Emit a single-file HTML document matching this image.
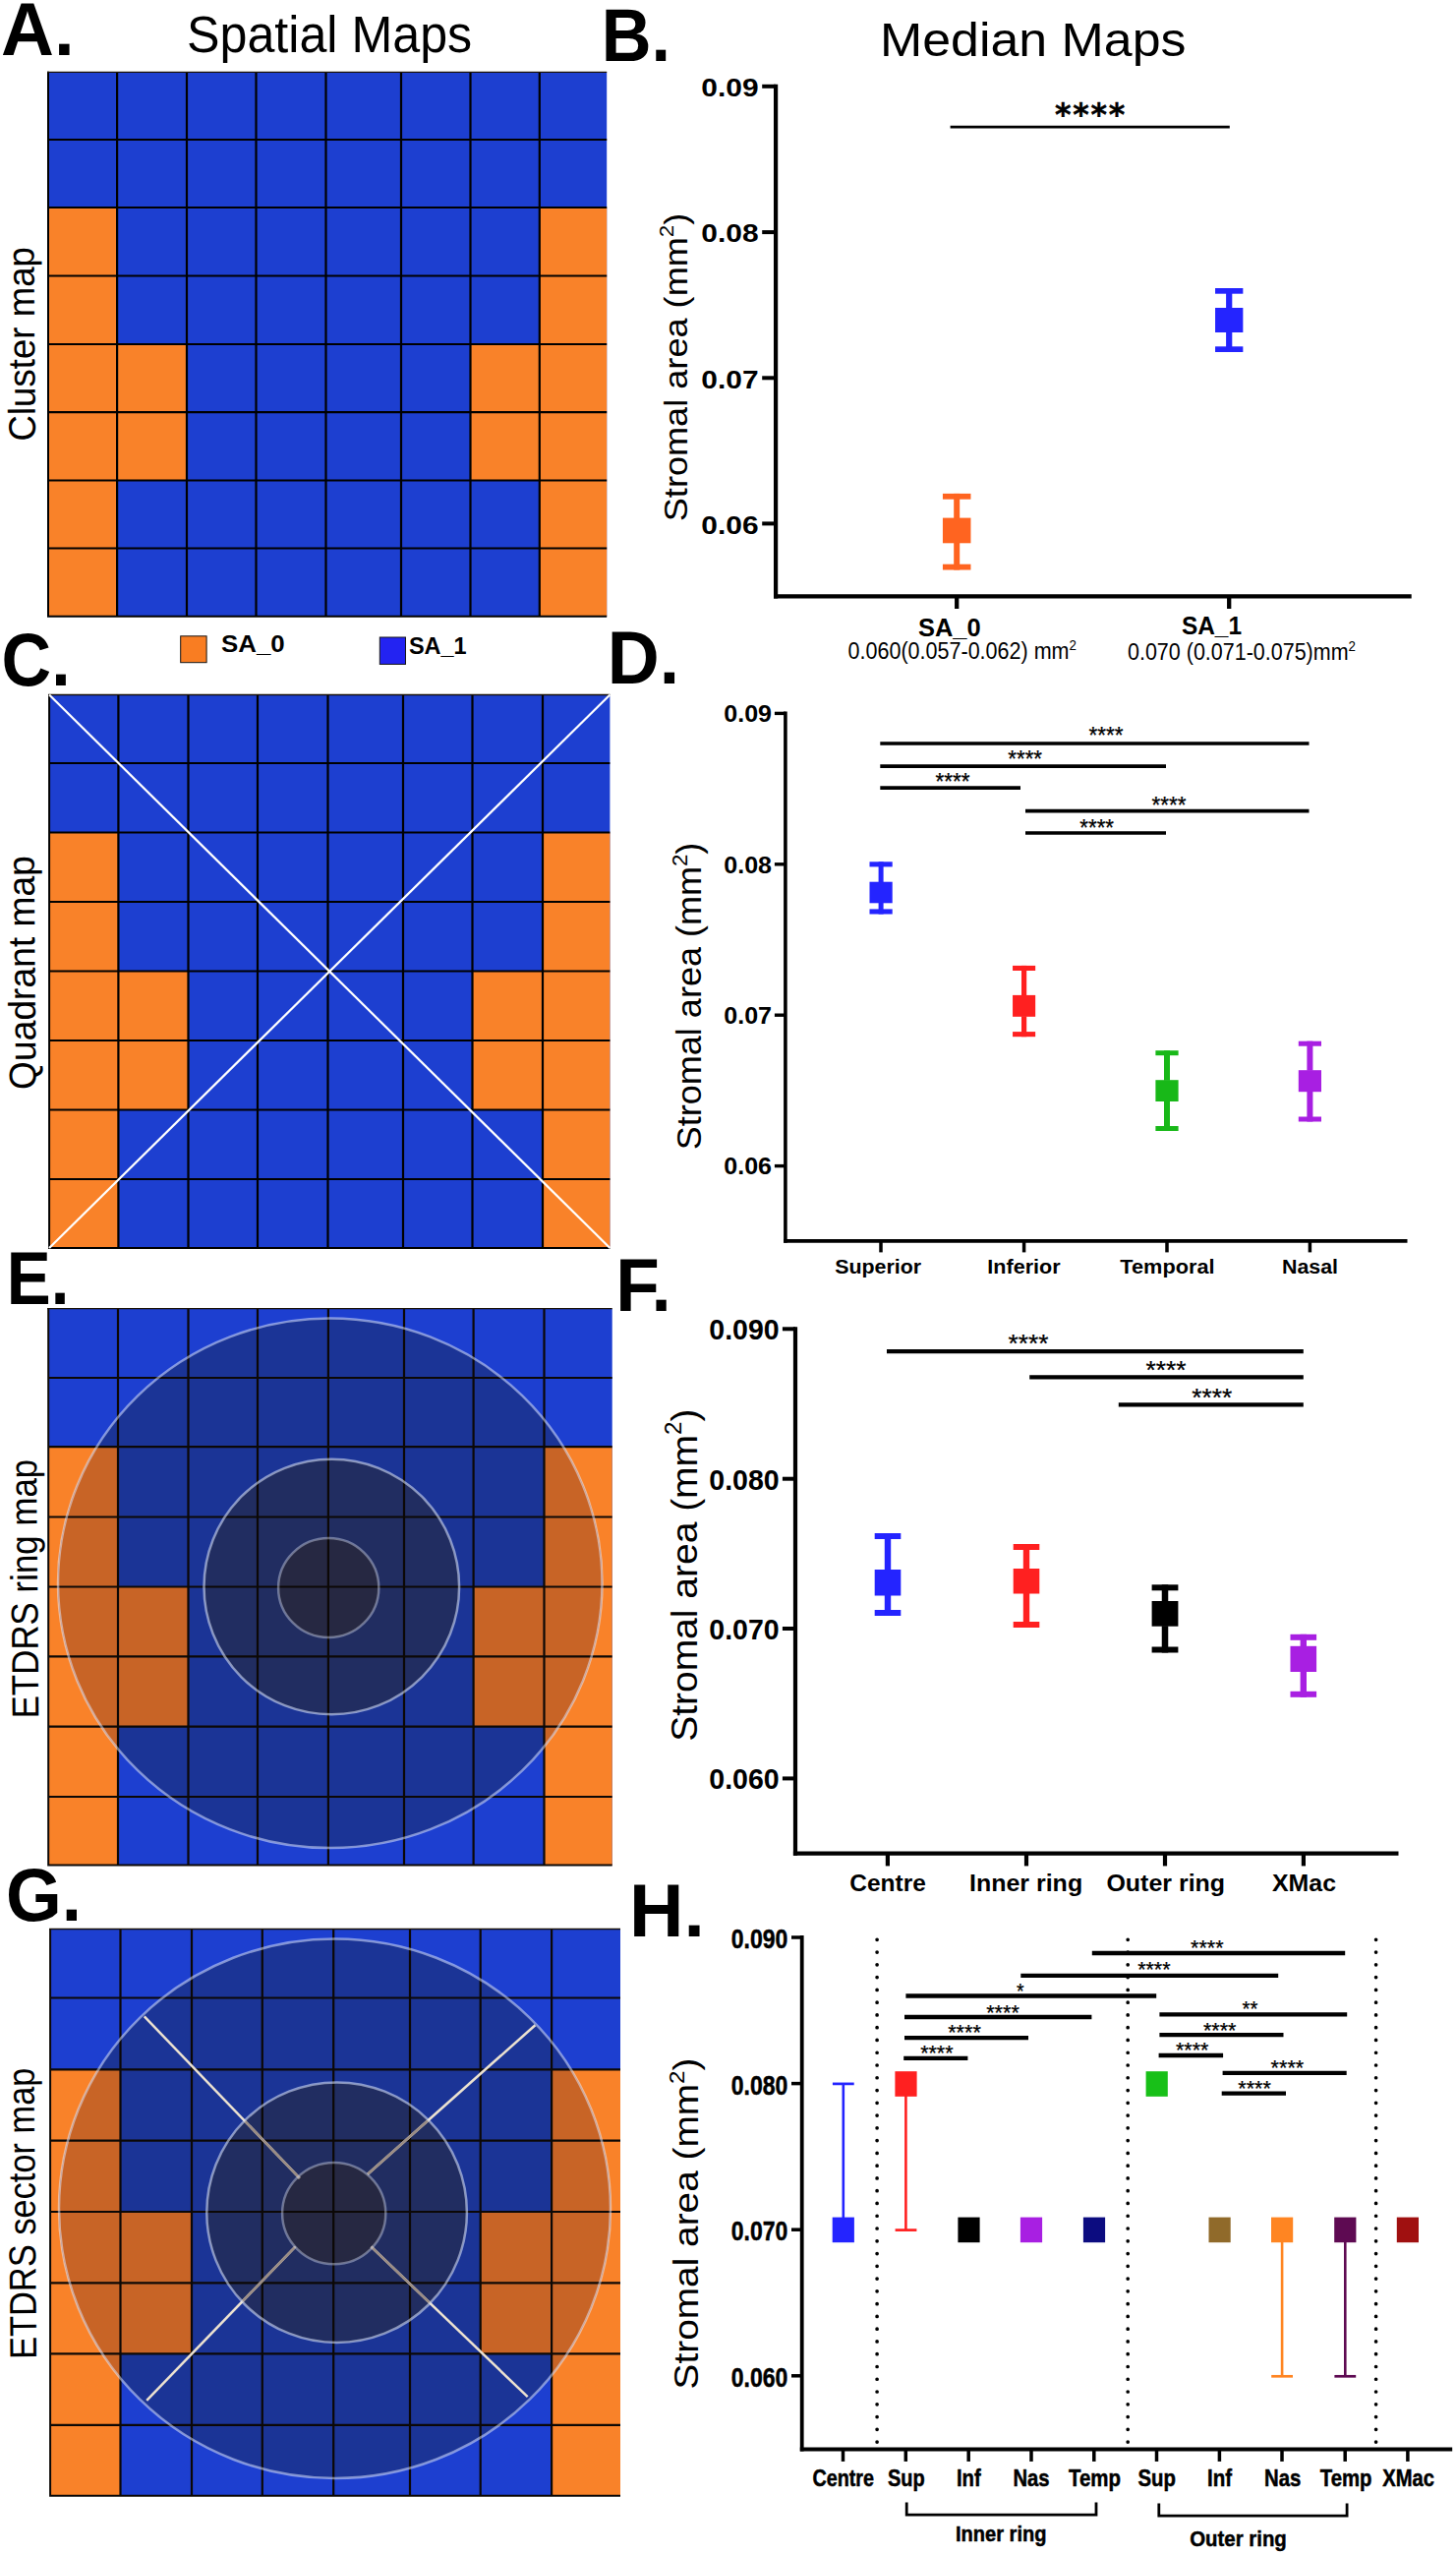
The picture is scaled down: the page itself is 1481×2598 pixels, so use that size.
<!DOCTYPE html>
<html lang="en"><head><meta charset="utf-8"><title>Spatial and median maps of stromal area</title>
<style>html,body{margin:0;padding:0;background:#fff}svg{display:block}</style></head>
<body>
<svg width="1481" height="2598" viewBox="0 0 1481 2598" font-family='"Liberation Sans", Arial, sans-serif'>
<rect x="0.00" y="0.00" width="1481.00" height="2598.00" fill="#fff"/>
<rect x="49.00" y="73.40" width="568.20" height="553.30" fill="#1d3fd0"/>
<rect x="49.00" y="211.00" width="70.10" height="69.50" fill="#f98229"/>
<rect x="548.80" y="211.00" width="68.40" height="69.50" fill="#f98229"/>
<rect x="49.00" y="280.50" width="70.10" height="69.50" fill="#f98229"/>
<rect x="548.80" y="280.50" width="68.40" height="69.50" fill="#f98229"/>
<rect x="49.00" y="350.00" width="70.10" height="69.10" fill="#f98229"/>
<rect x="119.10" y="350.00" width="70.90" height="69.10" fill="#f98229"/>
<rect x="478.50" y="350.00" width="70.30" height="69.10" fill="#f98229"/>
<rect x="548.80" y="350.00" width="68.40" height="69.10" fill="#f98229"/>
<rect x="49.00" y="419.10" width="70.10" height="69.40" fill="#f98229"/>
<rect x="119.10" y="419.10" width="70.90" height="69.40" fill="#f98229"/>
<rect x="478.50" y="419.10" width="70.30" height="69.40" fill="#f98229"/>
<rect x="548.80" y="419.10" width="68.40" height="69.40" fill="#f98229"/>
<rect x="49.00" y="488.50" width="70.10" height="69.00" fill="#f98229"/>
<rect x="548.80" y="488.50" width="68.40" height="69.00" fill="#f98229"/>
<rect x="49.00" y="557.50" width="70.10" height="69.20" fill="#f98229"/>
<rect x="548.80" y="557.50" width="68.40" height="69.20" fill="#f98229"/>
<path d="M119.10 73.40V626.70M190.00 73.40V626.70M260.50 73.40V626.70M331.50 73.40V626.70M408.00 73.40V626.70M478.50 73.40V626.70M548.80 73.40V626.70M49.00 142.00H617.20M49.00 211.00H617.20M49.00 280.50H617.20M49.00 350.00H617.20M49.00 419.10H617.20M49.00 488.50H617.20M49.00 557.50H617.20" stroke="#000" stroke-width="2.2" fill="none"/>
<path d="M49.00 72.80V626.70H617.20" stroke="#000" stroke-width="2.0" fill="none" stroke-linejoin="miter"/>
<path d="M48.00 73.40H617.20" stroke="#1a1208" stroke-width="1.3" fill="none"/>
<rect x="50.10" y="706.50" width="570.30" height="562.50" fill="#1d3fd0"/>
<rect x="50.10" y="846.50" width="70.30" height="70.50" fill="#f98229"/>
<rect x="552.00" y="846.50" width="68.40" height="70.50" fill="#f98229"/>
<rect x="50.10" y="917.00" width="70.30" height="70.50" fill="#f98229"/>
<rect x="552.00" y="917.00" width="68.40" height="70.50" fill="#f98229"/>
<rect x="50.10" y="987.50" width="70.30" height="70.50" fill="#f98229"/>
<rect x="120.40" y="987.50" width="71.10" height="70.50" fill="#f98229"/>
<rect x="480.50" y="987.50" width="71.50" height="70.50" fill="#f98229"/>
<rect x="552.00" y="987.50" width="68.40" height="70.50" fill="#f98229"/>
<rect x="50.10" y="1058.00" width="70.30" height="70.50" fill="#f98229"/>
<rect x="120.40" y="1058.00" width="71.10" height="70.50" fill="#f98229"/>
<rect x="480.50" y="1058.00" width="71.50" height="70.50" fill="#f98229"/>
<rect x="552.00" y="1058.00" width="68.40" height="70.50" fill="#f98229"/>
<rect x="50.10" y="1128.50" width="70.30" height="70.50" fill="#f98229"/>
<rect x="552.00" y="1128.50" width="68.40" height="70.50" fill="#f98229"/>
<rect x="50.10" y="1199.00" width="70.30" height="70.00" fill="#f98229"/>
<rect x="552.00" y="1199.00" width="68.40" height="70.00" fill="#f98229"/>
<path d="M120.40 706.50V1269.00M191.50 706.50V1269.00M262.00 706.50V1269.00M333.50 706.50V1269.00M410.00 706.50V1269.00M480.50 706.50V1269.00M552.00 706.50V1269.00M50.10 776.00H620.40M50.10 846.50H620.40M50.10 917.00H620.40M50.10 987.50H620.40M50.10 1058.00H620.40M50.10 1128.50H620.40M50.10 1199.00H620.40" stroke="#000" stroke-width="2.2" fill="none"/>
<path d="M50.10 705.90V1269.00H620.40" stroke="#000" stroke-width="2.0" fill="none" stroke-linejoin="miter"/>
<path d="M49.10 706.50H620.40" stroke="#1a1208" stroke-width="1.3" fill="none"/>
<line x1="50.10" y1="706.50" x2="620.40" y2="1269.00" stroke="#fff" stroke-width="2.2"/>
<line x1="620.40" y1="706.50" x2="50.10" y2="1269.00" stroke="#fff" stroke-width="2.2"/>
<rect x="49.20" y="1330.60" width="573.50" height="566.00" fill="#1d3fd0"/>
<rect x="49.20" y="1471.20" width="70.80" height="71.30" fill="#f98229"/>
<rect x="553.50" y="1471.20" width="69.20" height="71.30" fill="#f98229"/>
<rect x="49.20" y="1542.50" width="70.80" height="71.00" fill="#f98229"/>
<rect x="553.50" y="1542.50" width="69.20" height="71.00" fill="#f98229"/>
<rect x="49.20" y="1613.50" width="70.80" height="70.90" fill="#f98229"/>
<rect x="120.00" y="1613.50" width="71.50" height="70.90" fill="#f98229"/>
<rect x="481.60" y="1613.50" width="71.90" height="70.90" fill="#f98229"/>
<rect x="553.50" y="1613.50" width="69.20" height="70.90" fill="#f98229"/>
<rect x="49.20" y="1684.40" width="70.80" height="71.30" fill="#f98229"/>
<rect x="120.00" y="1684.40" width="71.50" height="71.30" fill="#f98229"/>
<rect x="481.60" y="1684.40" width="71.90" height="71.30" fill="#f98229"/>
<rect x="553.50" y="1684.40" width="69.20" height="71.30" fill="#f98229"/>
<rect x="49.20" y="1755.70" width="70.80" height="71.30" fill="#f98229"/>
<rect x="553.50" y="1755.70" width="69.20" height="71.30" fill="#f98229"/>
<rect x="49.20" y="1827.00" width="70.80" height="69.60" fill="#f98229"/>
<rect x="553.50" y="1827.00" width="69.20" height="69.60" fill="#f98229"/>
<clipPath id="rc1"><ellipse cx="335.75" cy="1609.80" rx="276.75" ry="269.30"/></clipPath>
<g clip-path="url(#rc1)">
<rect x="49.20" y="1330.60" width="573.50" height="566.00" fill="#1b3496"/>
<rect x="49.20" y="1471.20" width="70.80" height="71.30" fill="#c86426"/>
<rect x="553.50" y="1471.20" width="69.20" height="71.30" fill="#c86426"/>
<rect x="49.20" y="1542.50" width="70.80" height="71.00" fill="#c86426"/>
<rect x="553.50" y="1542.50" width="69.20" height="71.00" fill="#c86426"/>
<rect x="49.20" y="1613.50" width="70.80" height="70.90" fill="#c86426"/>
<rect x="120.00" y="1613.50" width="71.50" height="70.90" fill="#c86426"/>
<rect x="481.60" y="1613.50" width="71.90" height="70.90" fill="#c86426"/>
<rect x="553.50" y="1613.50" width="69.20" height="70.90" fill="#c86426"/>
<rect x="49.20" y="1684.40" width="70.80" height="71.30" fill="#c86426"/>
<rect x="120.00" y="1684.40" width="71.50" height="71.30" fill="#c86426"/>
<rect x="481.60" y="1684.40" width="71.90" height="71.30" fill="#c86426"/>
<rect x="553.50" y="1684.40" width="69.20" height="71.30" fill="#c86426"/>
<rect x="49.20" y="1755.70" width="70.80" height="71.30" fill="#c86426"/>
<rect x="553.50" y="1755.70" width="69.20" height="71.30" fill="#c86426"/>
<rect x="49.20" y="1827.00" width="70.80" height="69.60" fill="#c86426"/>
<rect x="553.50" y="1827.00" width="69.20" height="69.60" fill="#c86426"/>
</g>
<ellipse cx="337.30" cy="1613.50" rx="129.80" ry="129.80" fill="#212d61"/>
<ellipse cx="334.20" cy="1614.50" rx="51.10" ry="50.50" fill="#262842"/>
<path d="M120.00 1330.60V1896.60M191.50 1330.60V1896.60M262.00 1330.60V1896.60M333.90 1330.60V1896.60M411.00 1330.60V1896.60M481.60 1330.60V1896.60M553.50 1330.60V1896.60M49.20 1401.00H622.70M49.20 1471.20H622.70M49.20 1542.50H622.70M49.20 1613.50H622.70M49.20 1684.40H622.70M49.20 1755.70H622.70M49.20 1827.00H622.70" stroke="#0c0806" stroke-width="2.2" fill="none"/>
<path d="M49.20 1330.00V1896.60H622.70" stroke="#0c0806" stroke-width="2.0" fill="none" stroke-linejoin="miter"/>
<path d="M48.20 1330.60H622.70" stroke="#1a1208" stroke-width="1.3" fill="none"/>
<ellipse cx="335.75" cy="1609.80" rx="276.75" ry="269.30" fill="none" stroke="#e4ecff" stroke-opacity="0.52" stroke-width="2.5"/>
<ellipse cx="337.30" cy="1613.50" rx="129.80" ry="129.80" fill="none" stroke="#e4ecff" stroke-opacity="0.55" stroke-width="2.5"/>
<ellipse cx="334.20" cy="1614.50" rx="51.10" ry="50.50" fill="none" stroke="#e4ecff" stroke-opacity="0.4" stroke-width="2.5"/>
<rect x="51.10" y="1961.50" width="579.90" height="576.20" fill="#1d3fd0"/>
<rect x="51.10" y="2104.30" width="71.40" height="72.30" fill="#f98229"/>
<rect x="561.10" y="2104.30" width="69.90" height="72.30" fill="#f98229"/>
<rect x="51.10" y="2176.60" width="71.40" height="72.40" fill="#f98229"/>
<rect x="561.10" y="2176.60" width="69.90" height="72.40" fill="#f98229"/>
<rect x="51.10" y="2249.00" width="71.40" height="72.40" fill="#f98229"/>
<rect x="122.50" y="2249.00" width="72.50" height="72.40" fill="#f98229"/>
<rect x="488.70" y="2249.00" width="72.40" height="72.40" fill="#f98229"/>
<rect x="561.10" y="2249.00" width="69.90" height="72.40" fill="#f98229"/>
<rect x="51.10" y="2321.40" width="71.40" height="72.00" fill="#f98229"/>
<rect x="122.50" y="2321.40" width="72.50" height="72.00" fill="#f98229"/>
<rect x="488.70" y="2321.40" width="72.40" height="72.00" fill="#f98229"/>
<rect x="561.10" y="2321.40" width="69.90" height="72.00" fill="#f98229"/>
<rect x="51.10" y="2393.40" width="71.40" height="72.50" fill="#f98229"/>
<rect x="561.10" y="2393.40" width="69.90" height="72.50" fill="#f98229"/>
<rect x="51.10" y="2465.90" width="71.40" height="71.80" fill="#f98229"/>
<rect x="561.10" y="2465.90" width="69.90" height="71.80" fill="#f98229"/>
<clipPath id="rc2"><ellipse cx="340.50" cy="2245.75" rx="280.50" ry="274.25"/></clipPath>
<g clip-path="url(#rc2)">
<rect x="51.10" y="1961.50" width="579.90" height="576.20" fill="#1b3496"/>
<rect x="51.10" y="2104.30" width="71.40" height="72.30" fill="#c86426"/>
<rect x="561.10" y="2104.30" width="69.90" height="72.30" fill="#c86426"/>
<rect x="51.10" y="2176.60" width="71.40" height="72.40" fill="#c86426"/>
<rect x="561.10" y="2176.60" width="69.90" height="72.40" fill="#c86426"/>
<rect x="51.10" y="2249.00" width="71.40" height="72.40" fill="#c86426"/>
<rect x="122.50" y="2249.00" width="72.50" height="72.40" fill="#c86426"/>
<rect x="488.70" y="2249.00" width="72.40" height="72.40" fill="#c86426"/>
<rect x="561.10" y="2249.00" width="69.90" height="72.40" fill="#c86426"/>
<rect x="51.10" y="2321.40" width="71.40" height="72.00" fill="#c86426"/>
<rect x="122.50" y="2321.40" width="72.50" height="72.00" fill="#c86426"/>
<rect x="488.70" y="2321.40" width="72.40" height="72.00" fill="#c86426"/>
<rect x="561.10" y="2321.40" width="69.90" height="72.00" fill="#c86426"/>
<rect x="51.10" y="2393.40" width="71.40" height="72.50" fill="#c86426"/>
<rect x="561.10" y="2393.40" width="69.90" height="72.50" fill="#c86426"/>
<rect x="51.10" y="2465.90" width="71.40" height="71.80" fill="#c86426"/>
<rect x="561.10" y="2465.90" width="69.90" height="71.80" fill="#c86426"/>
</g>
<ellipse cx="342.60" cy="2249.70" rx="132.30" ry="132.30" fill="#212d61"/>
<ellipse cx="339.70" cy="2250.60" rx="52.60" ry="51.70" fill="#262842"/>
<path d="M122.50 1961.50V2537.70M195.00 1961.50V2537.70M266.80 1961.50V2537.70M339.20 1961.50V2537.70M417.00 1961.50V2537.70M488.70 1961.50V2537.70M561.10 1961.50V2537.70M51.10 2031.50H631.00M51.10 2104.30H631.00M51.10 2176.60H631.00M51.10 2249.00H631.00M51.10 2321.40H631.00M51.10 2393.40H631.00M51.10 2465.90H631.00" stroke="#0c0806" stroke-width="2.2" fill="none"/>
<path d="M51.10 1960.90V2537.70H631.00" stroke="#0c0806" stroke-width="2.0" fill="none" stroke-linejoin="miter"/>
<path d="M50.10 1961.50H631.00" stroke="#1a1208" stroke-width="1.3" fill="none"/>
<line x1="146.80" y1="2050.30" x2="304.80" y2="2214.80" stroke="#ece2d0" stroke-width="2.5"/>
<line x1="544.40" y1="2059.20" x2="374.00" y2="2210.70" stroke="#ece2d0" stroke-width="2.5"/>
<line x1="149.20" y1="2440.80" x2="300.40" y2="2284.50" stroke="#ece2d0" stroke-width="2.5"/>
<line x1="536.70" y1="2437.20" x2="377.50" y2="2284.50" stroke="#ece2d0" stroke-width="2.5"/>
<clipPath id="secm"><ellipse cx="342.60" cy="2249.70" rx="132.30" ry="132.30"/></clipPath>
<g clip-path="url(#secm)">
<line x1="146.80" y1="2050.30" x2="304.80" y2="2214.80" stroke="#9a8c84" stroke-width="2.5"/>
<line x1="544.40" y1="2059.20" x2="374.00" y2="2210.70" stroke="#9a8c84" stroke-width="2.5"/>
<line x1="149.20" y1="2440.80" x2="300.40" y2="2284.50" stroke="#9a8c84" stroke-width="2.5"/>
<line x1="536.70" y1="2437.20" x2="377.50" y2="2284.50" stroke="#9a8c84" stroke-width="2.5"/>
</g>
<ellipse cx="340.50" cy="2245.75" rx="280.50" ry="274.25" fill="none" stroke="#e4ecff" stroke-opacity="0.52" stroke-width="2.5"/>
<ellipse cx="342.60" cy="2249.70" rx="132.30" ry="132.30" fill="none" stroke="#e4ecff" stroke-opacity="0.55" stroke-width="2.5"/>
<ellipse cx="339.70" cy="2250.60" rx="52.60" ry="51.70" fill="none" stroke="#e4ecff" stroke-opacity="0.4" stroke-width="2.5"/>
<rect x="183.70" y="646.80" width="26.40" height="26.90" fill="#f97d22" stroke="#151515" stroke-width="1"/>
<rect x="386.30" y="648.00" width="26.20" height="27.40" fill="#2323f2" stroke="#151515" stroke-width="1"/>
<text id="t0" x="225.00" y="662.90" font-size="23.7" font-weight="700" textLength="64.64" lengthAdjust="spacingAndGlyphs">SA_0</text>
<text id="t1" x="415.93" y="664.60" font-size="23.7" font-weight="700" textLength="58.73" lengthAdjust="spacingAndGlyphs">SA_1</text>
<text id="t2" x="1.11" y="55.90" font-size="76.5" font-weight="700" textLength="74.62" lengthAdjust="spacingAndGlyphs">A.</text>
<text id="t3" x="611.70" y="61.60" font-size="76.5" font-weight="700" textLength="70.33" lengthAdjust="spacingAndGlyphs">B.</text>
<text id="t4" x="1.60" y="697.00" font-size="76.5" font-weight="700" textLength="70.08" lengthAdjust="spacingAndGlyphs">C.</text>
<text id="t5" x="617.78" y="695.00" font-size="76.5" font-weight="700" textLength="73.31" lengthAdjust="spacingAndGlyphs">D.</text>
<text id="t6" x="6.75" y="1325.60" font-size="76.5" font-weight="700" textLength="63.70" lengthAdjust="spacingAndGlyphs">E.</text>
<text id="t7" x="626.13" y="1332.90" font-size="76.5" font-weight="700" textLength="56.74" lengthAdjust="spacingAndGlyphs">F.</text>
<text id="t8" x="5.92" y="1952.50" font-size="76.5" font-weight="700" textLength="77.02" lengthAdjust="spacingAndGlyphs">G.</text>
<text id="t9" x="639.96" y="1969.10" font-size="76.5" font-weight="700" textLength="76.82" lengthAdjust="spacingAndGlyphs">H.</text>
<text id="t10" x="189.97" y="52.60" font-size="51" textLength="290.24" lengthAdjust="spacingAndGlyphs">Spatial Maps</text>
<text id="t11" x="894.92" y="56.80" font-size="48.5" textLength="311.61" lengthAdjust="spacingAndGlyphs">Median Maps</text>
<text id="t12" transform="translate(36.00,448.57) rotate(-90.5)" font-size="38.5" textLength="197.58" lengthAdjust="spacingAndGlyphs">Cluster map</text>
<text id="t13" transform="translate(36.60,1107.99) rotate(-90.5)" font-size="38.5" textLength="238.02" lengthAdjust="spacingAndGlyphs">Quadrant map</text>
<text id="t14" transform="translate(39.30,1747.36) rotate(-90.5)" font-size="38.5" textLength="263.60" lengthAdjust="spacingAndGlyphs">ETDRS ring map</text>
<text id="t15" transform="translate(37.10,2398.63) rotate(-90.5)" font-size="38.5" textLength="296.11" lengthAdjust="spacingAndGlyphs">ETDRS sector map</text>
<text id="t16" transform="translate(699.20,530.22) rotate(-90)" font-size="34" textLength="313.55" lengthAdjust="spacingAndGlyphs">Stromal area (mm<tspan font-size="62%" dy="-0.66em">2</tspan><tspan dy="0.41em">)</tspan></text>
<text id="t17" transform="translate(713.20,1169.18) rotate(-90)" font-size="35.5" textLength="312.51" lengthAdjust="spacingAndGlyphs">Stromal area (mm<tspan font-size="62%" dy="-0.66em">2</tspan><tspan dy="0.41em">)</tspan></text>
<text id="t18" transform="translate(708.50,1770.86) rotate(-90)" font-size="37.5" textLength="338.38" lengthAdjust="spacingAndGlyphs">Stromal area (mm<tspan font-size="62%" dy="-0.66em">2</tspan><tspan dy="0.41em">)</tspan></text>
<text id="t19" transform="translate(709.90,2429.45) rotate(-90)" font-size="34.5" textLength="336.89" lengthAdjust="spacingAndGlyphs">Stromal area (mm<tspan font-size="62%" dy="-0.66em">2</tspan><tspan dy="0.41em">)</tspan></text>
<line x1="789.10" y1="85.80" x2="789.10" y2="608.50" stroke="#000" stroke-width="4.2"/>
<line x1="787.00" y1="606.40" x2="1435.70" y2="606.40" stroke="#000" stroke-width="4.2"/>
<line x1="775.20" y1="87.80" x2="789.10" y2="87.80" stroke="#000" stroke-width="4.0"/>
<text id="t20" x="713.33" y="98.05" font-size="26.4" font-weight="700" textLength="58.23" lengthAdjust="spacingAndGlyphs">0.09</text>
<line x1="775.20" y1="236.10" x2="789.10" y2="236.10" stroke="#000" stroke-width="4.0"/>
<text id="t21" x="713.34" y="246.35" font-size="26.4" font-weight="700" textLength="58.23" lengthAdjust="spacingAndGlyphs">0.08</text>
<line x1="775.20" y1="384.30" x2="789.10" y2="384.30" stroke="#000" stroke-width="4.0"/>
<text id="t22" x="713.34" y="394.55" font-size="26.4" font-weight="700" textLength="58.22" lengthAdjust="spacingAndGlyphs">0.07</text>
<line x1="775.20" y1="532.40" x2="789.10" y2="532.40" stroke="#000" stroke-width="4.0"/>
<text id="t23" x="713.31" y="542.65" font-size="26.4" font-weight="700" textLength="58.26" lengthAdjust="spacingAndGlyphs">0.06</text>
<line x1="973.20" y1="606.40" x2="973.20" y2="619.00" stroke="#000" stroke-width="4.3"/>
<line x1="1250.20" y1="606.40" x2="1250.20" y2="619.00" stroke="#000" stroke-width="4.3"/>
<line x1="966.60" y1="129.10" x2="1250.80" y2="129.10" stroke="#000" stroke-width="2.9"/>
<text id="t24" x="1072.92" y="127.30" font-size="31.5" font-weight="700" textLength="71.30" lengthAdjust="spacing" font-family="DejaVu Sans, sans-serif" stroke="#000" stroke-width="0.4">****</text>
<rect x="958.95" y="501.90" width="28.50" height="5.80" fill="#ff6420"/>
<rect x="970.20" y="501.90" width="6.00" height="25.20" fill="#ff6420"/>
<rect x="958.95" y="573.70" width="28.50" height="5.80" fill="#ff6420"/>
<rect x="970.20" y="551.80" width="6.00" height="27.70" fill="#ff6420"/>
<rect x="958.95" y="526.60" width="28.50" height="25.70" fill="#ff6420"/>
<rect x="1236.05" y="293.00" width="28.30" height="5.70" fill="#2424ff"/>
<rect x="1247.10" y="293.00" width="6.20" height="20.50" fill="#2424ff"/>
<rect x="1236.05" y="352.30" width="28.30" height="5.70" fill="#2424ff"/>
<rect x="1247.10" y="337.50" width="6.20" height="20.50" fill="#2424ff"/>
<rect x="1236.05" y="313.00" width="28.30" height="25.00" fill="#2424ff"/>
<text id="t25" x="933.98" y="646.70" font-size="26" font-weight="700" textLength="63.65" lengthAdjust="spacingAndGlyphs">SA_0</text>
<text id="t26" x="1201.96" y="644.50" font-size="26" font-weight="700" textLength="61.07" lengthAdjust="spacingAndGlyphs">SA_1</text>
<text id="t27" x="862.50" y="670.00" font-size="23.5" textLength="232.51" lengthAdjust="spacingAndGlyphs">0.060(0.057-0.062) mm<tspan font-size="62%" dy="-0.60em">2</tspan></text>
<text id="t28" x="1147.00" y="671.20" font-size="23.5" textLength="232.01" lengthAdjust="spacingAndGlyphs">0.070 (0.071-0.075)mm<tspan font-size="62%" dy="-0.60em">2</tspan></text>
<line x1="798.90" y1="723.60" x2="798.90" y2="1263.70" stroke="#000" stroke-width="3.6"/>
<line x1="797.10" y1="1261.90" x2="1431.50" y2="1261.90" stroke="#000" stroke-width="3.6"/>
<line x1="787.90" y1="725.40" x2="798.90" y2="725.40" stroke="#000" stroke-width="3.4"/>
<text id="t29" x="736.25" y="734.15" font-size="23.2" font-weight="700" textLength="48.74" lengthAdjust="spacingAndGlyphs">0.09</text>
<line x1="787.90" y1="878.80" x2="798.90" y2="878.80" stroke="#000" stroke-width="3.4"/>
<text id="t30" x="736.25" y="887.55" font-size="23.2" font-weight="700" textLength="48.74" lengthAdjust="spacingAndGlyphs">0.08</text>
<line x1="787.90" y1="1032.20" x2="798.90" y2="1032.20" stroke="#000" stroke-width="3.4"/>
<text id="t31" x="736.25" y="1040.95" font-size="23.2" font-weight="700" textLength="48.74" lengthAdjust="spacingAndGlyphs">0.07</text>
<line x1="787.90" y1="1185.60" x2="798.90" y2="1185.60" stroke="#000" stroke-width="3.4"/>
<text id="t32" x="736.25" y="1194.35" font-size="23.2" font-weight="700" textLength="48.74" lengthAdjust="spacingAndGlyphs">0.06</text>
<line x1="896.00" y1="1261.90" x2="896.00" y2="1273.40" stroke="#000" stroke-width="3.5"/>
<line x1="1041.60" y1="1261.90" x2="1041.60" y2="1273.40" stroke="#000" stroke-width="3.5"/>
<line x1="1187.00" y1="1261.90" x2="1187.00" y2="1273.40" stroke="#000" stroke-width="3.5"/>
<line x1="1332.40" y1="1261.90" x2="1332.40" y2="1273.40" stroke="#000" stroke-width="3.5"/>
<line x1="895.30" y1="756.00" x2="1331.50" y2="756.00" stroke="#000" stroke-width="3.6"/>
<text id="t33" x="1107.57" y="756.05" font-size="23.18" textLength="34.91" lengthAdjust="spacingAndGlyphs" stroke="#000" stroke-width="0.25">****</text>
<line x1="895.30" y1="779.10" x2="1186.00" y2="779.10" stroke="#000" stroke-width="3.6"/>
<text id="t34" x="1025.33" y="780.05" font-size="23.18" textLength="34.64" lengthAdjust="spacingAndGlyphs" stroke="#000" stroke-width="0.25">****</text>
<line x1="895.30" y1="801.10" x2="1038.00" y2="801.10" stroke="#000" stroke-width="3.6"/>
<text id="t35" x="951.57" y="803.05" font-size="23.18" textLength="34.91" lengthAdjust="spacingAndGlyphs" stroke="#000" stroke-width="0.25">****</text>
<line x1="1043.00" y1="824.60" x2="1331.50" y2="824.60" stroke="#000" stroke-width="3.6"/>
<text id="t36" x="1171.57" y="827.05" font-size="23.18" textLength="34.91" lengthAdjust="spacingAndGlyphs" stroke="#000" stroke-width="0.25">****</text>
<line x1="1043.00" y1="847.00" x2="1186.00" y2="847.00" stroke="#000" stroke-width="3.6"/>
<text id="t37" x="1098.33" y="850.05" font-size="23.18" textLength="34.64" lengthAdjust="spacingAndGlyphs" stroke="#000" stroke-width="0.25">****</text>
<rect x="884.50" y="876.30" width="23.20" height="5.10" fill="#2424ff"/>
<rect x="893.60" y="876.30" width="5.00" height="20.90" fill="#2424ff"/>
<rect x="884.50" y="924.40" width="23.20" height="5.10" fill="#2424ff"/>
<rect x="893.60" y="917.80" width="5.00" height="11.70" fill="#2424ff"/>
<rect x="884.50" y="896.70" width="23.20" height="21.60" fill="#2424ff"/>
<rect x="1030.05" y="981.90" width="23.10" height="5.10" fill="#ff2020"/>
<rect x="1039.00" y="981.90" width="5.20" height="30.50" fill="#ff2020"/>
<rect x="1030.05" y="1049.10" width="23.10" height="5.10" fill="#ff2020"/>
<rect x="1039.00" y="1033.30" width="5.20" height="20.90" fill="#ff2020"/>
<rect x="1030.05" y="1011.90" width="23.10" height="21.90" fill="#ff2020"/>
<rect x="1175.40" y="1068.20" width="23.20" height="5.00" fill="#18b818"/>
<rect x="1184.00" y="1068.20" width="6.00" height="30.50" fill="#18b818"/>
<rect x="1175.40" y="1145.00" width="23.20" height="5.00" fill="#18b818"/>
<rect x="1184.00" y="1119.50" width="6.00" height="30.50" fill="#18b818"/>
<rect x="1175.40" y="1098.20" width="23.20" height="21.80" fill="#18b818"/>
<rect x="1320.80" y="1058.70" width="23.20" height="5.00" fill="#a81fe2"/>
<rect x="1329.40" y="1058.70" width="6.00" height="30.00" fill="#a81fe2"/>
<rect x="1320.80" y="1135.50" width="23.20" height="5.00" fill="#a81fe2"/>
<rect x="1329.40" y="1109.70" width="6.00" height="30.80" fill="#a81fe2"/>
<rect x="1320.80" y="1088.20" width="23.20" height="22.00" fill="#a81fe2"/>
<text id="t38" x="849.20" y="1295.20" font-size="20.3" font-weight="700" textLength="88.00" lengthAdjust="spacingAndGlyphs">Superior</text>
<text id="t39" x="1004.31" y="1295.20" font-size="20.3" font-weight="700" textLength="74.28" lengthAdjust="spacingAndGlyphs">Inferior</text>
<text id="t40" x="1139.39" y="1295.20" font-size="20.3" font-weight="700" textLength="96.13" lengthAdjust="spacingAndGlyphs">Temporal</text>
<text id="t41" x="1303.96" y="1295.20" font-size="20.3" font-weight="700" textLength="57.08" lengthAdjust="spacingAndGlyphs">Nasal</text>
<line x1="809.00" y1="1349.30" x2="809.00" y2="1886.70" stroke="#000" stroke-width="4.2"/>
<line x1="806.90" y1="1884.60" x2="1422.50" y2="1884.60" stroke="#000" stroke-width="4.2"/>
<line x1="795.90" y1="1351.30" x2="809.00" y2="1351.30" stroke="#000" stroke-width="4.0"/>
<text id="t42" x="721.31" y="1362.10" font-size="29" font-weight="700" textLength="71.38" lengthAdjust="spacingAndGlyphs">0.090</text>
<line x1="795.90" y1="1503.70" x2="809.00" y2="1503.70" stroke="#000" stroke-width="4.0"/>
<text id="t43" x="721.31" y="1514.50" font-size="29" font-weight="700" textLength="71.38" lengthAdjust="spacingAndGlyphs">0.080</text>
<line x1="795.90" y1="1656.00" x2="809.00" y2="1656.00" stroke="#000" stroke-width="4.0"/>
<text id="t44" x="721.31" y="1666.80" font-size="29" font-weight="700" textLength="71.38" lengthAdjust="spacingAndGlyphs">0.070</text>
<line x1="795.90" y1="1808.40" x2="809.00" y2="1808.40" stroke="#000" stroke-width="4.0"/>
<text id="t45" x="721.31" y="1819.20" font-size="29" font-weight="700" textLength="71.38" lengthAdjust="spacingAndGlyphs">0.060</text>
<line x1="902.90" y1="1884.60" x2="902.90" y2="1897.40" stroke="#000" stroke-width="4.2"/>
<line x1="1044.00" y1="1884.60" x2="1044.00" y2="1897.40" stroke="#000" stroke-width="4.2"/>
<line x1="1185.00" y1="1884.60" x2="1185.00" y2="1897.40" stroke="#000" stroke-width="4.2"/>
<line x1="1325.90" y1="1884.60" x2="1325.90" y2="1897.40" stroke="#000" stroke-width="4.2"/>
<line x1="902.00" y1="1374.20" x2="1325.80" y2="1374.20" stroke="#000" stroke-width="4.2"/>
<text id="t46" x="1025.59" y="1374.87" font-size="26.49" textLength="40.78" lengthAdjust="spacingAndGlyphs" stroke="#000" stroke-width="0.25">****</text>
<line x1="1047.20" y1="1400.30" x2="1325.80" y2="1400.30" stroke="#000" stroke-width="4.2"/>
<text id="t47" x="1165.59" y="1401.97" font-size="26.49" textLength="40.78" lengthAdjust="spacingAndGlyphs" stroke="#000" stroke-width="0.25">****</text>
<line x1="1137.80" y1="1428.40" x2="1325.80" y2="1428.40" stroke="#000" stroke-width="4.2"/>
<text id="t48" x="1212.37" y="1429.97" font-size="26.49" textLength="40.87" lengthAdjust="spacingAndGlyphs" stroke="#000" stroke-width="0.25">****</text>
<rect x="889.70" y="1559.00" width="26.60" height="6.00" fill="#2424ff"/>
<rect x="899.80" y="1559.00" width="6.40" height="37.50" fill="#2424ff"/>
<rect x="889.70" y="1637.00" width="26.60" height="6.00" fill="#2424ff"/>
<rect x="899.80" y="1622.00" width="6.40" height="21.00" fill="#2424ff"/>
<rect x="889.70" y="1596.00" width="26.60" height="26.50" fill="#2424ff"/>
<rect x="1030.70" y="1570.00" width="26.60" height="6.00" fill="#ff2020"/>
<rect x="1040.80" y="1570.00" width="6.40" height="25.50" fill="#ff2020"/>
<rect x="1030.70" y="1649.00" width="26.60" height="6.00" fill="#ff2020"/>
<rect x="1040.80" y="1620.00" width="6.40" height="35.00" fill="#ff2020"/>
<rect x="1030.70" y="1595.00" width="26.60" height="25.50" fill="#ff2020"/>
<rect x="1171.60" y="1611.30" width="26.80" height="6.00" fill="#000"/>
<rect x="1181.75" y="1611.30" width="6.50" height="17.20" fill="#000"/>
<rect x="1171.60" y="1674.50" width="26.80" height="6.00" fill="#000"/>
<rect x="1181.75" y="1653.20" width="6.50" height="27.30" fill="#000"/>
<rect x="1171.60" y="1628.00" width="26.80" height="25.70" fill="#000"/>
<rect x="1312.50" y="1661.80" width="26.60" height="6.00" fill="#a81fe2"/>
<rect x="1322.60" y="1661.80" width="6.40" height="12.50" fill="#a81fe2"/>
<rect x="1312.50" y="1719.80" width="26.60" height="6.00" fill="#a81fe2"/>
<rect x="1322.60" y="1699.50" width="6.40" height="26.30" fill="#a81fe2"/>
<rect x="1312.50" y="1673.80" width="26.60" height="26.20" fill="#a81fe2"/>
<text id="t49" x="864.36" y="1922.60" font-size="23.2" font-weight="700" textLength="77.45" lengthAdjust="spacingAndGlyphs">Centre</text>
<text id="t50" x="985.94" y="1922.60" font-size="23.2" font-weight="700" textLength="115.22" lengthAdjust="spacingAndGlyphs">Inner ring</text>
<text id="t51" x="1125.48" y="1922.60" font-size="23.2" font-weight="700" textLength="120.56" lengthAdjust="spacingAndGlyphs">Outer ring</text>
<text id="t52" x="1294.00" y="1922.60" font-size="23.2" font-weight="700" textLength="65.02" lengthAdjust="spacingAndGlyphs">XMac</text>
<line x1="815.70" y1="1968.10" x2="815.70" y2="2492.40" stroke="#000" stroke-width="3.8"/>
<line x1="813.80" y1="2490.50" x2="1477.20" y2="2490.50" stroke="#000" stroke-width="3.8"/>
<line x1="805.00" y1="1970.00" x2="815.70" y2="1970.00" stroke="#000" stroke-width="3.5"/>
<text id="t53" x="743.79" y="1981.00" font-size="28.4" font-weight="700" textLength="57.49" lengthAdjust="spacingAndGlyphs" stroke="#000" stroke-width="0.5">0.090</text>
<line x1="805.00" y1="2118.60" x2="815.70" y2="2118.60" stroke="#000" stroke-width="3.5"/>
<text id="t54" x="743.79" y="2129.60" font-size="28.4" font-weight="700" textLength="57.49" lengthAdjust="spacingAndGlyphs" stroke="#000" stroke-width="0.5">0.080</text>
<line x1="805.00" y1="2267.20" x2="815.70" y2="2267.20" stroke="#000" stroke-width="3.5"/>
<text id="t55" x="743.79" y="2278.20" font-size="28.4" font-weight="700" textLength="57.49" lengthAdjust="spacingAndGlyphs" stroke="#000" stroke-width="0.5">0.070</text>
<line x1="805.00" y1="2415.80" x2="815.70" y2="2415.80" stroke="#000" stroke-width="3.5"/>
<text id="t56" x="743.79" y="2426.80" font-size="28.4" font-weight="700" textLength="57.49" lengthAdjust="spacingAndGlyphs" stroke="#000" stroke-width="0.5">0.060</text>
<line x1="857.50" y1="2490.50" x2="857.50" y2="2502.90" stroke="#000" stroke-width="3.5"/>
<line x1="921.30" y1="2490.50" x2="921.30" y2="2502.90" stroke="#000" stroke-width="3.5"/>
<line x1="985.20" y1="2490.50" x2="985.20" y2="2502.90" stroke="#000" stroke-width="3.5"/>
<line x1="1049.00" y1="2490.50" x2="1049.00" y2="2502.90" stroke="#000" stroke-width="3.5"/>
<line x1="1112.80" y1="2490.50" x2="1112.80" y2="2502.90" stroke="#000" stroke-width="3.5"/>
<line x1="1176.50" y1="2490.50" x2="1176.50" y2="2502.90" stroke="#000" stroke-width="3.5"/>
<line x1="1240.40" y1="2490.50" x2="1240.40" y2="2502.90" stroke="#000" stroke-width="3.5"/>
<line x1="1304.00" y1="2490.50" x2="1304.00" y2="2502.90" stroke="#000" stroke-width="3.5"/>
<line x1="1368.20" y1="2490.50" x2="1368.20" y2="2502.90" stroke="#000" stroke-width="3.5"/>
<line x1="1431.90" y1="2490.50" x2="1431.90" y2="2502.90" stroke="#000" stroke-width="3.5"/>
<line x1="892.10" y1="1972.30" x2="892.10" y2="2484.20" stroke="#000" stroke-width="3.7" stroke-dasharray="0 12.77" stroke-linecap="round"/>
<line x1="1147.20" y1="1972.30" x2="1147.20" y2="2484.20" stroke="#000" stroke-width="3.7" stroke-dasharray="0 12.77" stroke-linecap="round"/>
<line x1="1399.60" y1="1972.30" x2="1399.60" y2="2484.20" stroke="#000" stroke-width="3.7" stroke-dasharray="0 12.77" stroke-linecap="round"/>
<line x1="1110.80" y1="1986.00" x2="1368.20" y2="1986.00" stroke="#000" stroke-width="4.3"/>
<text id="t57" x="1211.08" y="1988.30" font-size="22.3" textLength="33.46" lengthAdjust="spacingAndGlyphs" stroke="#000" stroke-width="0.25">****</text>
<line x1="1038.30" y1="2008.90" x2="1300.20" y2="2008.90" stroke="#000" stroke-width="4.3"/>
<text id="t58" x="1157.16" y="2009.70" font-size="22.3" textLength="33.40" lengthAdjust="spacingAndGlyphs" stroke="#000" stroke-width="0.25">****</text>
<line x1="921.40" y1="2029.50" x2="1176.20" y2="2029.50" stroke="#000" stroke-width="4.3"/>
<text id="t59" x="1033.90" y="2032.00" font-size="22.3" textLength="7.59" lengthAdjust="spacingAndGlyphs" stroke="#000" stroke-width="0.25">*</text>
<line x1="920.00" y1="2051.00" x2="1110.40" y2="2051.00" stroke="#000" stroke-width="4.3"/>
<text id="t60" x="1003.22" y="2054.30" font-size="22.3" textLength="33.60" lengthAdjust="spacingAndGlyphs" stroke="#000" stroke-width="0.25">****</text>
<line x1="920.00" y1="2072.20" x2="1046.00" y2="2072.20" stroke="#000" stroke-width="4.3"/>
<text id="t61" x="964.22" y="2074.20" font-size="22.3" textLength="33.60" lengthAdjust="spacingAndGlyphs" stroke="#000" stroke-width="0.25">****</text>
<line x1="919.20" y1="2092.80" x2="984.40" y2="2092.80" stroke="#000" stroke-width="4.3"/>
<text id="t62" x="936.16" y="2094.70" font-size="22.3" textLength="33.40" lengthAdjust="spacingAndGlyphs" stroke="#000" stroke-width="0.25">****</text>
<line x1="1179.40" y1="2048.30" x2="1370.20" y2="2048.30" stroke="#000" stroke-width="4.3"/>
<text id="t63" x="1263.57" y="2049.70" font-size="22.3" textLength="15.86" lengthAdjust="spacingAndGlyphs" stroke="#000" stroke-width="0.25">**</text>
<line x1="1179.40" y1="2069.20" x2="1305.50" y2="2069.20" stroke="#000" stroke-width="4.3"/>
<text id="t64" x="1223.95" y="2071.60" font-size="22.3" textLength="33.41" lengthAdjust="spacingAndGlyphs" stroke="#000" stroke-width="0.25">****</text>
<line x1="1178.60" y1="2090.00" x2="1244.10" y2="2090.00" stroke="#000" stroke-width="4.3"/>
<text id="t65" x="1195.99" y="2092.10" font-size="22.3" textLength="33.44" lengthAdjust="spacingAndGlyphs" stroke="#000" stroke-width="0.25">****</text>
<line x1="1243.60" y1="2107.90" x2="1369.70" y2="2107.90" stroke="#000" stroke-width="4.3"/>
<text id="t66" x="1292.62" y="2110.20" font-size="22.3" textLength="33.60" lengthAdjust="spacingAndGlyphs" stroke="#000" stroke-width="0.25">****</text>
<line x1="1242.70" y1="2128.70" x2="1308.00" y2="2128.70" stroke="#000" stroke-width="4.3"/>
<text id="t67" x="1259.34" y="2131.00" font-size="22.3" textLength="33.41" lengthAdjust="spacingAndGlyphs" stroke="#000" stroke-width="0.25">****</text>
<line x1="857.80" y1="2118.90" x2="857.80" y2="2256.00" stroke="#2424ff" stroke-width="2.6"/>
<line x1="846.90" y1="2118.90" x2="868.70" y2="2118.90" stroke="#2424ff" stroke-width="2.7"/>
<line x1="921.40" y1="2130.00" x2="921.40" y2="2267.60" stroke="#ff2020" stroke-width="2.6"/>
<line x1="910.60" y1="2267.60" x2="932.40" y2="2267.60" stroke="#ff2020" stroke-width="2.7"/>
<line x1="1304.10" y1="2279.00" x2="1304.10" y2="2416.30" stroke="#ff8522" stroke-width="2.6"/>
<line x1="1293.20" y1="2416.30" x2="1315.00" y2="2416.30" stroke="#ff8522" stroke-width="2.7"/>
<line x1="1368.30" y1="2279.00" x2="1368.30" y2="2416.30" stroke="#5e0a52" stroke-width="2.6"/>
<line x1="1357.40" y1="2416.30" x2="1379.20" y2="2416.30" stroke="#5e0a52" stroke-width="2.7"/>
<rect x="846.70" y="2254.60" width="22.20" height="25.60" fill="#2424ff"/>
<rect x="910.40" y="2106.20" width="22.20" height="25.60" fill="#ff2020"/>
<rect x="974.40" y="2254.60" width="22.20" height="25.60" fill="#000"/>
<rect x="1037.90" y="2254.60" width="22.20" height="25.60" fill="#a81fe2"/>
<rect x="1101.90" y="2254.60" width="22.20" height="25.60" fill="#0c0c80"/>
<rect x="1165.60" y="2106.20" width="22.20" height="25.60" fill="#18c018"/>
<rect x="1229.50" y="2254.60" width="22.20" height="25.60" fill="#906a2a"/>
<rect x="1293.00" y="2254.60" width="22.20" height="25.60" fill="#ff8522"/>
<rect x="1357.20" y="2254.60" width="22.20" height="25.60" fill="#5e0a52"/>
<rect x="1420.80" y="2254.60" width="22.20" height="25.60" fill="#a01010"/>
<text id="t68" x="826.43" y="2527.60" font-size="23.8" font-weight="700" textLength="62.61" lengthAdjust="spacingAndGlyphs" stroke="#000" stroke-width="0.5">Centre</text>
<text id="t69" x="902.95" y="2527.60" font-size="23.8" font-weight="700" textLength="37.70" lengthAdjust="spacingAndGlyphs" stroke="#000" stroke-width="0.5">Sup</text>
<text id="t70" x="972.92" y="2527.60" font-size="23.8" font-weight="700" textLength="24.76" lengthAdjust="spacingAndGlyphs" stroke="#000" stroke-width="0.5">Inf</text>
<text id="t71" x="1030.42" y="2527.60" font-size="23.8" font-weight="700" textLength="37.12" lengthAdjust="spacingAndGlyphs" stroke="#000" stroke-width="0.5">Nas</text>
<text id="t72" x="1087.00" y="2527.60" font-size="23.8" font-weight="700" textLength="52.94" lengthAdjust="spacingAndGlyphs" stroke="#000" stroke-width="0.5">Temp</text>
<text id="t73" x="1157.47" y="2527.60" font-size="23.8" font-weight="700" textLength="38.46" lengthAdjust="spacingAndGlyphs" stroke="#000" stroke-width="0.5">Sup</text>
<text id="t74" x="1228.04" y="2527.60" font-size="23.8" font-weight="700" textLength="25.05" lengthAdjust="spacingAndGlyphs" stroke="#000" stroke-width="0.5">Inf</text>
<text id="t75" x="1285.99" y="2527.60" font-size="23.8" font-weight="700" textLength="37.30" lengthAdjust="spacingAndGlyphs" stroke="#000" stroke-width="0.5">Nas</text>
<text id="t76" x="1342.74" y="2527.60" font-size="23.8" font-weight="700" textLength="52.64" lengthAdjust="spacingAndGlyphs" stroke="#000" stroke-width="0.5">Temp</text>
<text id="t77" x="1406.27" y="2527.60" font-size="23.8" font-weight="700" textLength="52.67" lengthAdjust="spacingAndGlyphs" stroke="#000" stroke-width="0.5">XMac</text>
<path d="M922.2 2544.5V2557.2H1115V2544.5" stroke="#000" stroke-width="2.8" fill="none"/>
<path d="M1178.8 2545.5V2558.2H1370.1V2545.5" stroke="#000" stroke-width="2.8" fill="none"/>
<text id="t78" x="971.98" y="2584.20" font-size="22.5" font-weight="700" textLength="92.56" lengthAdjust="spacingAndGlyphs" stroke="#000" stroke-width="0.5">Inner ring</text>
<text id="t79" x="1210.22" y="2588.70" font-size="22.5" font-weight="700" textLength="98.61" lengthAdjust="spacingAndGlyphs" stroke="#000" stroke-width="0.5">Outer ring</text>
</svg>
</body></html>
